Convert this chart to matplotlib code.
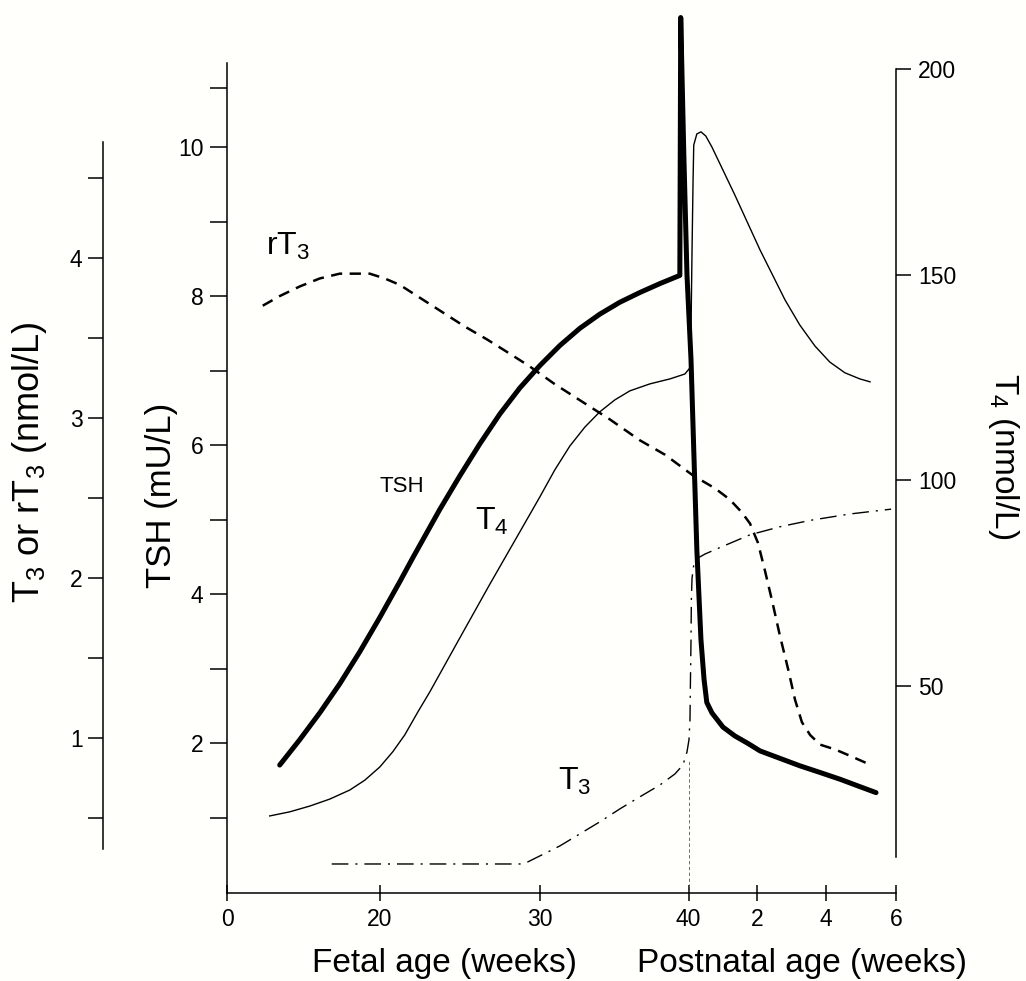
import numpy as np
import matplotlib
matplotlib.use("Agg")
import matplotlib.pyplot as plt

plt.rcParams['font.family'] = ['Liberation Sans', 'DejaVu Sans']
plt.rcParams['mathtext.fontset'] = 'custom'
plt.rcParams['mathtext.rm'] = 'Liberation Sans'

# age in weeks, postnatal weeks continue after 40
tsh_age = [6.90, 9.52, 12.14, 14.76, 17.38, 20.0, 21.25, 22.06, 23.75, 25.0, 26.25,
           27.5, 28.75, 30.0, 31.35, 32.69, 34.03, 35.38, 36.72, 38.07, 39.41,
           39.47, 39.67, 39.89, 40.07, 40.15, 40.24, 40.36, 40.45, 40.53, 40.68,
           41.0, 41.35, 41.73, 42.08, 42.66, 43.24, 43.83, 44.4, 44.97, 45.43]
tsh = [1.71, 2.05, 2.41, 2.80, 3.23, 3.69, 4.17, 4.49, 5.14, 5.59, 6.02,
       6.42, 6.77, 7.07, 7.34, 7.57, 7.76, 7.92, 8.05, 8.17, 8.28,
       11.74, 9.97, 8.29, 7.15, 5.94, 4.60, 3.39, 2.86, 2.55, 2.41,
       2.22, 2.10, 2.00, 1.90, 1.80, 1.70, 1.61, 1.52, 1.42, 1.34]

t4_age = [5.59, 8.21, 10.83, 13.45, 16.07, 18.04, 20.0, 20.81, 21.56, 22.38, 23.13,
          25.0, 26.88, 28.75, 30.0, 31.01, 32.02, 33.03, 34.03, 35.04, 36.05,
          37.4, 38.74, 39.75, 40.04, 40.07, 40.1, 40.13, 40.15, 40.24, 40.36,
          40.5, 40.68, 41.35, 42.08, 42.81, 43.24, 43.68, 44.11, 44.54, 44.97, 45.26]
t4 = [18.4, 19.4, 20.8, 22.5, 24.7, 27.1, 30.3, 34.0, 38.1, 43.7, 48.6,
      61.7, 74.8, 87.5, 96.0, 102.6, 108.4, 113.0, 116.7, 119.6, 121.8,
      123.5, 124.7, 125.9, 127.4, 136.6, 156.1, 173.1, 181.6, 184.3, 184.8,
      183.8, 181.1, 169.4, 156.1, 143.9, 137.8, 132.7, 128.8, 126.2, 124.7, 124.0]

rt3_age = [4.68, 6.90, 9.52, 12.14, 14.76, 16.72, 18.69, 20.31, 21.25, 22.5, 23.75,
           25.31, 26.69, 28.13, 29.38, 31.01, 32.69, 34.71, 36.72, 38.41, 40.13,
           40.77, 41.2, 41.55, 41.79, 42.02, 42.22, 42.43, 42.66, 42.9, 43.1,
           43.3, 43.54, 43.83, 44.26, 44.69, 45.31]
rt3 = [3.70, 3.76, 3.82, 3.87, 3.90, 3.90, 3.90, 3.87, 3.83, 3.75, 3.67,
       3.57, 3.49, 3.40, 3.32, 3.21, 3.11, 2.99, 2.86, 2.77, 2.64,
       2.56, 2.49, 2.41, 2.34, 2.22, 2.05, 1.86, 1.64, 1.43, 1.24,
       1.10, 1.02, 0.96, 0.93, 0.89, 0.83]

t3_age = [13.71, 28.75, 29.25, 29.75, 30.54, 31.35, 32.69, 34.03, 35.38, 36.72, 38.07,
          39.08, 39.62, 39.89, 40.01, 40.04, 40.05, 40.07, 40.08, 40.1, 40.15,
          40.27, 40.48, 40.91, 41.79, 42.66, 43.54, 44.69, 45.86]
t3 = [0.215, 0.215, 0.228, 0.253, 0.29, 0.328, 0.403, 0.478, 0.559, 0.634, 0.708,
      0.777, 0.833, 0.914, 0.989, 1.114, 1.301, 1.614, 1.863, 2.0, 2.08,
      2.125, 2.15, 2.19, 2.27, 2.32, 2.36, 2.40, 2.43]

age_ticks = [0, 20, 30, 40, 42, 44, 46]
age_labels = ['0', '20', '30', '40', '2', '4', '6']

# the age axis is not uniform in the original (0-20 squeezed, postnatal stretched)
knot_w = [-20, 0, 20, 30, 40, 42, 44, 46, 66]
knot_p = [-152.7, 0, 152.7, 312.7, 461.4, 530, 598.7, 668.7, 1368.7]


def fwd(x):
    return np.interp(x, knot_w, knot_p)


def inv(p):
    return np.interp(p, knot_p, knot_w)


W, H = 1026, 981
fig = plt.figure(figsize=(W / 100, H / 100), dpi=100)
fig.patch.set_facecolor('#fffffb')

left, right, top, bottom = 227, 896, 63, 892.5
ax = fig.add_axes([left / W, 1 - bottom / H, (right - left) / W, (bottom - top) / H])
ax.patch.set_visible(False)
ax.set_xscale('function', functions=(fwd, inv))
ax.set_xlim(0, 46)
ax.set_ylim(0, 11.13)

ax_t4 = ax.twinx()
ax_t4.set_ylim(-0.22, 201.55)
ax_t3 = ax.twinx()
ax_t3.set_ylim(0.037, 5.215)

# curves
ax.plot(tsh_age, tsh, color='black', lw=3.6, solid_joinstyle='round',
        solid_capstyle='round', clip_on=False, zorder=5)
ax_t4.plot(t4_age, t4, color='black', lw=1.0, solid_joinstyle='round')
ax_t3.plot(rt3_age, rt3, color='black', lw=1.8, dashes=(4.5, 3))
ax_t3.plot(t3_age, t3, color='black', lw=1.0, dashes=(12, 5, 1.5, 5))
ax.plot([40, 40], [0, 1.78], color='#555555', lw=0.6, dashes=(4, 3))

# spines
for s in ['top', 'right']:
    ax.spines[s].set_visible(False)
for s in ['top', 'left', 'bottom']:
    ax_t4.spines[s].set_visible(False)
for s in ['top', 'right', 'bottom']:
    ax_t3.spines[s].set_visible(False)
ax.spines['left'].set_linewidth(1.1)
ax.spines['bottom'].set_linewidth(1.1)
ax.spines['bottom'].set_bounds(0, 46)
ax_t4.spines['right'].set_linewidth(1.1)
ax_t4.spines['right'].set_bounds(8.5, 200)
ax_t3.spines['left'].set_visible(True)
ax_t3.spines['left'].set_position(('outward', 89))
ax_t3.spines['left'].set_linewidth(1.1)
ax_t3.spines['left'].set_bounds(0.31, 4.72)
ax_t3.yaxis.set_ticks_position('left')

# ticks
ax.set_xticks(age_ticks)
ax.set_xticklabels(age_labels)
ax.xaxis.set_minor_locator(matplotlib.ticker.NullLocator())
ax.tick_params(axis='x', direction='inout', length=11, width=1.1, labelsize=16.5, pad=6)

ax.set_yticks([2, 4, 6, 8, 10])
ax.set_yticks([1, 3, 5, 7, 9, 10.8], minor=True)
ax.tick_params(axis='y', which='both', direction='out', length=12, width=1.1,
               labelsize=16.5, pad=5)

ax_t4.set_yticks([50, 100, 150, 200])
ax_t4.tick_params(axis='y', direction='out', length=11, width=1.1, labelsize=16.5, pad=5)

ax_t3.set_yticks([1, 2, 3, 4])
ax_t3.set_yticks([0.5, 1.5, 2.5, 3.5, 4.5], minor=True)
ax_t3.tick_params(axis='y', which='both', direction='out', length=11, width=1.1,
                  labelsize=16.5, pad=4)

# curve labels
ax.text(5.07, 8.56, r'r$\mathregular{T_3}$', fontsize=23, ha='left', va='baseline')
ax.text(20.0, 5.38, 'TSH', fontsize=16, ha='left', va='baseline')
ax.text(25.94, 4.87, r'$\mathregular{T_4}$', fontsize=23, ha='left', va='baseline')
ax.text(31.21, 1.38, r'$\mathregular{T_3}$', fontsize=23, ha='left', va='baseline')

# axis titles
fig.text(445 / W, 1 - 972 / H, 'Fetal age (weeks)', fontsize=24, ha='center', va='baseline')
fig.text(802 / W, 1 - 972 / H, 'Postnatal age (weeks)', fontsize=24, ha='center', va='baseline')
fig.text(161 / W, 1 - 495 / H, 'TSH (mU/L)', fontsize=25, rotation=90, ha='center', va='center')
fig.text(30 / W, 1 - 462 / H, r'$\mathregular{T_3}$ or r$\mathregular{T_3}$ (nmol/L)',
         fontsize=26, rotation=90, ha='center', va='center')
fig.text(1003 / W, 1 - 456 / H, r'$\mathregular{T_4}$ (nmol/L)', fontsize=24,
         rotation=270, ha='center', va='center')

fig.savefig('out.png', dpi=100, facecolor=fig.get_facecolor())
